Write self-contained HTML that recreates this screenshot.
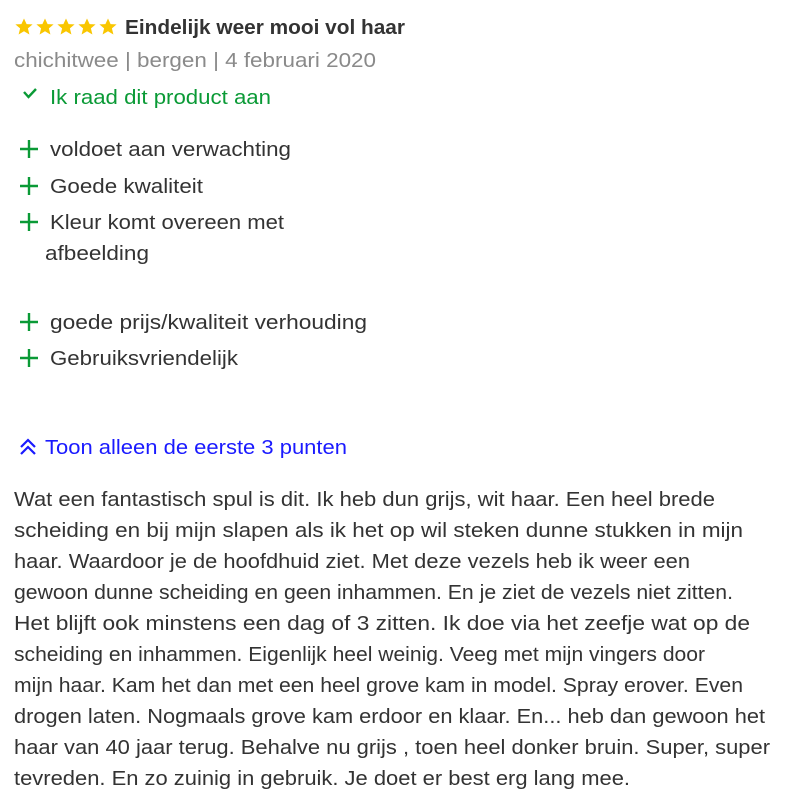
<!DOCTYPE html>
<html><head><meta charset="utf-8"><style>
html,body{margin:0;padding:0;background:#fff;}
svg{display:block;font-family:"Liberation Sans",sans-serif;}
</style></head><body>
<svg width="794" height="807" xmlns="http://www.w3.org/2000/svg">
<defs><polygon id="s" points="0,-8.5 2.6,-2.9 8.6,-2.6 3.9,1.4 5.4,7.5 0,4.2 -5.4,7.5 -3.9,1.4 -8.6,-2.6 -2.6,-2.9"/></defs>
<g fill="#f9c600">
<use href="#s" x="24" y="27"/>
<use href="#s" x="45" y="27"/>
<use href="#s" x="66" y="27"/>
<use href="#s" x="87" y="27"/>
<use href="#s" x="108" y="27"/>
</g>
<text x="125" y="34" font-size="20" font-weight="bold" fill="#333" textLength="280" lengthAdjust="spacingAndGlyphs">Eindelijk weer mooi vol haar</text>
<text x="14" y="67" font-size="20" fill="#8a8a8a" textLength="362" lengthAdjust="spacingAndGlyphs">chichitwee | bergen | 4 februari 2020</text>
<polyline points="24,92 28.5,97 36,89" fill="none" stroke="#0a9a36" stroke-width="2.4"/>
<text x="50" y="104" font-size="20" fill="#0a9a36" textLength="221" lengthAdjust="spacingAndGlyphs">Ik raad dit product aan</text>
<g stroke="#0a9a36" stroke-width="2.4">
<path d="M20 149H38M29 140V158"/>
<path d="M20 186H38M29 177V195"/>
<path d="M20 222H38M29 213V231"/>
<path d="M20 322H38M29 313V331"/>
<path d="M20 358H38M29 349V367"/>
</g>
<g font-size="20" fill="#333">
<text x="50" y="156" textLength="241" lengthAdjust="spacingAndGlyphs">voldoet aan verwachting</text>
<text x="50" y="193" textLength="153" lengthAdjust="spacingAndGlyphs">Goede kwaliteit</text>
<text x="50" y="229" textLength="234" lengthAdjust="spacingAndGlyphs">Kleur komt overeen met</text>
<text x="45" y="260" textLength="104" lengthAdjust="spacingAndGlyphs">afbeelding</text>
<text x="50" y="329" textLength="317" lengthAdjust="spacingAndGlyphs">goede prijs/kwaliteit verhouding</text>
<text x="50" y="365" textLength="188" lengthAdjust="spacingAndGlyphs">Gebruiksvriendelijk</text>
</g>
<polyline points="21,447 28,440 35,447" fill="none" stroke="#1a1aff" stroke-width="2.2"/>
<polyline points="21,454 28,447 35,454" fill="none" stroke="#1a1aff" stroke-width="2.2"/>
<text x="45" y="454" font-size="20" fill="#1a1aff" textLength="302" lengthAdjust="spacingAndGlyphs">Toon alleen de eerste 3 punten</text>
<g font-size="20" fill="#333">
<text x="14" y="506" textLength="701" lengthAdjust="spacingAndGlyphs">Wat een fantastisch spul is dit. Ik heb dun grijs, wit haar. Een heel brede</text>
<text x="14" y="537" textLength="729" lengthAdjust="spacingAndGlyphs">scheiding en bij mijn slapen als ik het op wil steken dunne stukken in mijn</text>
<text x="14" y="568" textLength="676" lengthAdjust="spacingAndGlyphs">haar. Waardoor je de hoofdhuid ziet. Met deze vezels heb ik weer een</text>
<text x="14" y="599" textLength="719" lengthAdjust="spacingAndGlyphs">gewoon dunne scheiding en geen inhammen. En je ziet de vezels niet zitten.</text>
<text x="14" y="630" textLength="736" lengthAdjust="spacingAndGlyphs">Het blijft ook minstens een dag of 3 zitten. Ik doe via het zeefje wat op de</text>
<text x="14" y="661" textLength="691" lengthAdjust="spacingAndGlyphs">scheiding en inhammen. Eigenlijk heel weinig. Veeg met mijn vingers door</text>
<text x="14" y="692" textLength="729" lengthAdjust="spacingAndGlyphs">mijn haar. Kam het dan met een heel grove kam in model. Spray erover. Even</text>
<text x="14" y="723" textLength="751" lengthAdjust="spacingAndGlyphs">drogen laten. Nogmaals grove kam erdoor en klaar. En... heb dan gewoon het</text>
<text x="14" y="754" textLength="756" lengthAdjust="spacingAndGlyphs">haar van 40 jaar terug. Behalve nu grijs , toen heel donker bruin. Super, super</text>
<text x="14" y="785" textLength="616" lengthAdjust="spacingAndGlyphs">tevreden. En zo zuinig in gebruik. Je doet er best erg lang mee.</text>
</g>
</svg>
</body></html>
